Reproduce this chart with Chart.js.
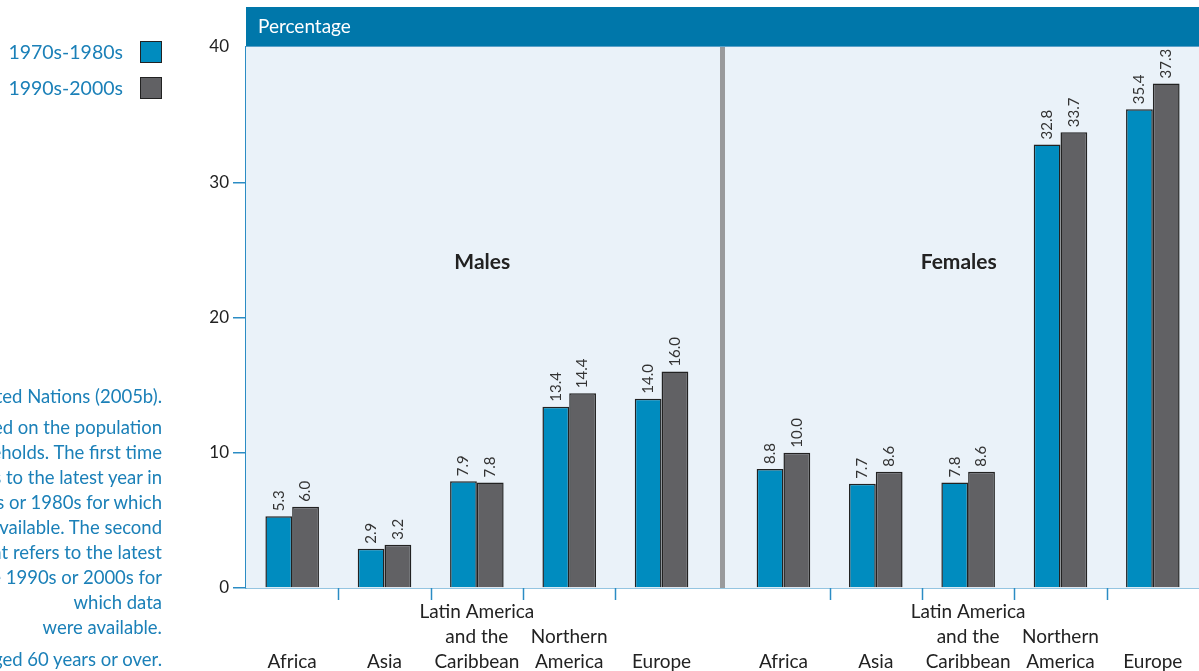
<!DOCTYPE html>
<html lang="en">
<head>
<meta charset="utf-8">
<title>Persons living alone by region and sex</title>
<script src="https://cdn.jsdelivr.net/npm/chart.js@4.4.1/dist/chart.umd.min.js"></script>
<style>
  * { margin: 0; padding: 0; box-sizing: border-box; }
  body {
    width: 1199px;
    height: 671px;
    overflow: hidden;
    background: #fff;
    position: relative;
    font-family: "Lato", sans-serif;
  }
  #chart { position: absolute; left: 0; top: 0; }
  .legend {
    position: absolute;
    right: 1037px;
    display: flex;
    align-items: center;
    gap: 17px;
    color: #1b80b8;
    font-size: 19.5px;
    white-space: nowrap;
  }
  .legend span.box {
    display: inline-block;
    width: 22px;
    height: 22px;
    border: 1px solid #222;
  }
  .notes p {
    position: absolute;
    right: 1037px;
    text-align: right;
    white-space: nowrap;
    color: #1b80b8;
    font-size: 18.5px;
    line-height: 25px;
  }
</style>
</head>
<body>
<canvas id="chart" width="1199" height="671"></canvas>
<div id="legend"></div>
<div class="notes">
  <p style="top:384px">Source: United Nations (2005b).</p>
  <p style="top:415px">Note: Based on the population<br>living in households. The first time<br>point refers to the latest year in<br>the 1970s or 1980s for which<br>data were available. The second<br>time point refers to the latest<br>year in the 1990s or 2000s for<br>which data<br>were available.</p>
  <p style="top:647px">Persons aged 60 years or over.</p>
</div>
<script>
// regions, "|" marks a line break in the axis label
const regions = ["Africa", "Asia", "Latin America|and the|Caribbean", "Northern|America", "Europe"];
const panels = ["Males", "Females"];
const seriesNames = ["1970s-1980s", "1990s-2000s"];
const males7080 = [5.3, 2.9, 7.9, 13.4, 14.0];
const males9000 = [6.0, 3.2, 7.8, 14.4, 16.0];
const females7080 = [8.8, 7.7, 7.8, 32.8, 35.4];
const females9000 = [10.0, 8.6, 8.6, 33.7, 37.3];
const yTicks = [0, 10, 20, 30, 40];

const colors = ["#008cbf", "#616164"];
const axisBlue = "#2b8cc4";
const GAP = 0.32; // extra space between the two panels
const n = regions.length;
const xPos = (panel, i) => panel * (n + GAP) + i;
const centers = [];
const tickLabels = [];
panels.forEach((p, pi) => regions.forEach((r, i) => {
  centers.push(xPos(pi, i));
  const lines = r.split("|");
  while (lines.length < 3) lines.unshift("");
  tickLabels.push(lines);
}));

const toPoints = (m, f) => m.map((v, i) => ({ x: xPos(0, i), y: v }))
  .concat(f.map((v, i) => ({ x: xPos(1, i), y: v })));

const xMin = -0.5;
const xMax = xPos(1, n - 1) + 0.5;
const divider = (xPos(0, n - 1) + xPos(1, 0)) / 2;

// background, header band, panel divider, boundary ticks, titles
const decor = {
  id: "decor",
  beforeDatasetsDraw(chart) {
    const { ctx, chartArea: a, scales: { x, y } } = chart;
    ctx.save();
    ctx.fillStyle = "#eaf2f9";
    ctx.fillRect(a.left, a.top, a.right - a.left, a.bottom - a.top);
    ctx.fillStyle = "#0077aa";
    ctx.fillRect(a.left, 7, a.right - a.left, a.top - 7);
    ctx.fillStyle = "#5aa0c8";
    ctx.fillRect(a.left, a.top - 1, a.right - a.left, 1);
    ctx.fillStyle = "#fff";
    ctx.font = "19px Lato";
    ctx.textBaseline = "middle";
    ctx.fillText("Percentage", a.left + 12, 27);

    const dx = x.getPixelForValue(divider);
    ctx.fillStyle = "#999a9c";
    ctx.fillRect(dx - 2.5, a.top, 5, a.bottom - a.top);

    ctx.fillStyle = "#222";
    ctx.font = "bold 21px Lato";
    ctx.textAlign = "center";
    const bounds = [[xMin, divider], [divider, xMax]];
    panels.forEach((p, i) => {
      const cx = x.getPixelForValue((bounds[i][0] + bounds[i][1]) / 2);
      ctx.fillText(p, cx - 2, y.getPixelForValue(24.1));
    });

    ctx.strokeStyle = axisBlue;
    ctx.lineWidth = 1.5;
    panels.forEach((p, pi) => {
      for (let i = 0; i < n - 1; i++) {
        const tx = Math.round(x.getPixelForValue(xPos(pi, i) + 0.5)) + 0.5;
        ctx.beginPath();
        ctx.moveTo(tx, a.bottom);
        ctx.lineTo(tx, a.bottom + 12);
        ctx.stroke();
      }
    });
    ctx.restore();
  },
  afterDatasetsDraw(chart) {
    const { ctx } = chart;
    ctx.save();
    ctx.fillStyle = "#333";
    ctx.font = "15px Lato";
    ctx.textAlign = "left";
    ctx.textBaseline = "middle";
    chart.data.datasets.forEach((ds, di) => {
      chart.getDatasetMeta(di).data.forEach((bar, i) => {
        ctx.save();
        ctx.translate(bar.x, bar.y - 5);
        ctx.rotate(-Math.PI / 2);
        ctx.fillText(ds.data[i].y.toFixed(1), 0, 0);
        ctx.restore();
      });
    });
    ctx.restore();
  }
};

const chart = new Chart(document.getElementById("chart"), {
  type: "bar",
  plugins: [decor],
  data: {
    datasets: [
      { label: seriesNames[0], data: toPoints(males7080, females7080), backgroundColor: colors[0] },
      { label: seriesNames[1], data: toPoints(males9000, females9000), backgroundColor: colors[1] }
    ].map(d => Object.assign(d, {
      borderColor: "#222",
      borderWidth: 1.5,
      categoryPercentage: 0.58,
      barPercentage: 1
    }))
  },
  options: {
    responsive: false,
    animation: false,
    layout: { padding: { top: 47, left: 0, right: 0, bottom: 0 } },
    plugins: { legend: { display: false }, tooltip: { enabled: false } },
    scales: {
      x: {
        type: "linear",
        offset: false,
        min: xMin,
        max: xMax,
        afterFit: s => { s.height = 83; },
        afterBuildTicks: s => { s.ticks = centers.map(v => ({ value: v })); },
        grid: { display: false },
        border: { display: true, color: axisBlue, width: 1.5 },
        ticks: {
          autoSkip: false,
          maxRotation: 0,
          padding: 4,
          color: "#222",
          font: { family: "Lato", size: 19, lineHeight: 1.3 },
          callback: (v, i) => tickLabels[i]
        }
      },
      y: {
        min: 0,
        max: 40,
        afterFit: s => { s.width = 246; },
        afterBuildTicks: s => { s.ticks = yTicks.map(v => ({ value: v })); },
        grid: {
          drawOnChartArea: false,
          tickLength: 13,
          lineWidth: 1.5,
          // the top tick sits under the header band, so leave it out
          tickColor: c => (c.tick && c.tick.value === 40 ? "rgba(0,0,0,0)" : axisBlue)
        },
        border: { display: true, color: axisBlue, width: 1.5 },
        ticks: { padding: 4, color: "#222", font: { family: "Lato", size: 17 } }
      }
    }
  }
});

// legend at the top left
const legend = document.getElementById("legend");
chart.data.datasets.forEach((ds, i) => {
  const row = document.createElement("div");
  row.className = "legend";
  row.style.top = (40 + i * 36) + "px";
  row.innerHTML = '<span>' + ds.label + '</span><span class="box" style="background:' + ds.backgroundColor + '"></span>';
  legend.appendChild(row);
});
</script>
</body>
</html>
